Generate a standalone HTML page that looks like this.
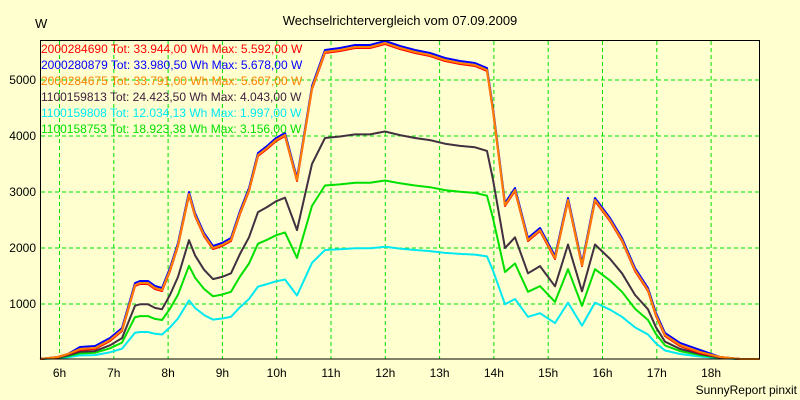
<!DOCTYPE html>
<html><head><style>
body{margin:0;background:#ffffd0;}
svg{display:block;font-family:"Liberation Sans",sans-serif;}
</style></head><body>
<svg id="s" width="800" height="400" xmlns="http://www.w3.org/2000/svg">
<rect width="800" height="400" fill="#ffffd0"/>
<text x="400" y="25" font-size="13" text-anchor="middle" fill="#000">Wechselrichtervergleich vom 07.09.2009</text>
<text x="35" y="28" font-size="13" fill="#000">W</text>
<g id="grid" stroke="#00e000" stroke-dasharray="4,3" stroke-width="1"></g>
<g id="series" fill="none" stroke-width="2" stroke-linejoin="round"></g>
<rect x="40.5" y="40.5" width="719" height="318.5" fill="none" stroke="#000" stroke-width="1"/>
<g font-size="12" text-anchor="end" fill="#000">
<text x="36" y="308">1000</text><text x="36" y="252">2000</text><text x="36" y="196">3000</text><text x="36" y="140">4000</text><text x="36" y="84">5000</text>
</g>
<g id="xl" font-size="12" text-anchor="middle" fill="#000"></g>
<g font-size="12">
<text x="41" y="53" fill="#ff0000">2000284690 Tot: 33.944,00 Wh Max: 5.592,00 W</text>
<text x="41" y="69" fill="#0000ff">2000280879 Tot: 33.980,50 Wh Max: 5.678,00 W</text>
<text x="41" y="85" fill="#ff8000">2000284675 Tot: 33.791,00 Wh Max: 5.607,00 W</text>
<text x="41" y="101" fill="#402040">1100159813 Tot: 24.423,50 Wh Max: 4.043,00 W</text>
<text x="41" y="117" fill="#00e8f0">1100159808 Tot: 12.034,13 Wh Max: 1.997,00 W</text>
<text x="41" y="133" fill="#00e000">1100158753 Tot: 18.923,38 Wh Max: 3.156,00 W</text>
</g>
<text x="797" y="394" font-size="12" text-anchor="end" fill="#000">SunnyReport pinxit</text>
</svg>
<script>
var NS="http://www.w3.org/2000/svg";
function el(p,t,a,txt){var e=document.createElementNS(NS,t);for(var k in a)e.setAttribute(k,a[k]);if(txt)e.textContent=txt;p.appendChild(e);return e;}
var g=document.getElementById('grid'),xl=document.getElementById('xl');
for(var h=6;h<=18;h++){var x=59.5+54.3*(h-6);el(g,'line',{x1:x,y1:41,x2:x,y2:359});el(xl,'text',{x:x,y:377},h+'h');}
[304,248,192,136,80].forEach(function(y){el(g,'line',{x1:41,y1:y,x2:759,y2:y});});
var P=[[40,359],[58,357],[68,354],[80,349],[95,348],[110,340],[122,330],[135,285],[140,283],[148,283],[155,288],[162,290],[170,270],[178,245],[189,194],[195,215],[204,235],[213,248],[222,245],[231,240],[240,213],[249,190],[258,155],[267,148],[276,140],[285,135],[297,180],[312,88],[325,52],[340,50],[355,47],[370,47],[385,43],[400,48],[415,52],[430,55],[445,60],[460,63],[475,65],[487,70],[493,110],[505,205],[515,190],[528,240],[540,230],[555,258],[568,200],[582,265],[595,200],[610,220],[622,240],[635,270],[648,290],[656,315],[665,335],[680,345],[700,352],[720,357],[740,359],[760,359]];
function path(sc,dy,color){var d='';P.forEach(function(p,i){var v=(359-p[1])*sc;var y=359-v+(v>5?dy:0);d+=(i?'L':'M')+p[0]+','+y.toFixed(1);});el(document.getElementById('series'),'path',{d:d,stroke:color});}
path(0.355,0,'#00e8f0');path(0.565,0,'#00e000');path(0.72,0,'#403040');
path(1.0,-2,'#0000ff');path(1.0,1,'#ff0000');path(1.0,0,'#ff8000');
</script>
</body></html>
